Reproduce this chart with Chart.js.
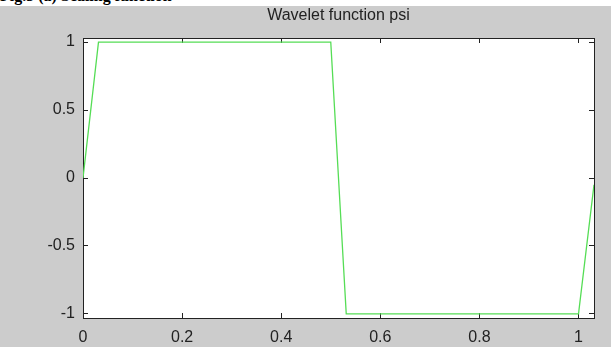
<!DOCTYPE html>
<html>
<head>
<meta charset="utf-8">
<script src="https://cdn.jsdelivr.net/npm/chart.js@4.4.1/dist/chart.umd.min.js"></script>
<style>
    html, body { margin: 0; padding: 0; background: #ffffff; }
    #caption {
        position: absolute; left: 0; top: 0; width: 611px; height: 6px;
        overflow: hidden; background: #ffffff;
    }
    #caption span {
        position: absolute; left: 0; top: -13px; white-space: nowrap;
        font: bold 16px "Liberation Serif", "Times New Roman", serif; color: #000;
    }
    #chart { position: absolute; left: 0; top: 6px; }
</style>
</head>
<body>
<div id="caption"><span>Fig.3 (a) Scaling function</span></div>
<canvas id="chart" width="611" height="341"></canvas>
<script>
// corner points of the psi curve
const psiX = [0, 0.03125, 0.5, 0.53125, 1, 1.03125];
const psiY = [0, 1, 1, -1, -1, -0.05];

const xTicks = [0, 0.2, 0.4, 0.6, 0.8, 1];
const yTicks = [-1, -0.5, 0, 0.5, 1];

const axisColor = '#222222';
const labelFont = { family: 'Liberation Sans, Arial, sans-serif', size: 16 };

function fixedTicks(list) {
    return function(scale) {
        scale.ticks = list.map(v => ({ value: v }));
    };
}

// gray figure background with a white plot box
const backdrop = {
    id: 'backdrop',
    beforeDraw(chart) {
        const ctx = chart.ctx;
        const a = chart.chartArea;
        ctx.save();
        ctx.fillStyle = '#cccccc';
        ctx.fillRect(0, 0, chart.width, chart.height);
        ctx.fillStyle = '#ffffff';
        ctx.fillRect(a.left, a.top, a.right - a.left, a.bottom - a.top);
        ctx.restore();
    }
};

const inwardGrid = {
    display: true,
    drawOnChartArea: false,
    tickLength: -5,
    color: axisColor,
    lineWidth: 1
};

const ctx = document.getElementById('chart').getContext('2d');
const myChart = new Chart(ctx, {
    type: 'scatter',
    data: {
        datasets: [{
            label: 'psi',
            data: psiX.map((x, i) => ({ x: x, y: psiY[i] })),
            showLine: true,
            borderColor: '#55dd55',
            borderWidth: 1.3,
            pointRadius: 0,
            tension: 0
        }]
    },
    options: {
        responsive: false,
        animation: false,
        devicePixelRatio: 1,
        layout: { padding: 0 },
        plugins: {
            legend: { display: false },
            tooltip: { enabled: false },
            title: {
                display: true,
                fullSize: false,
                text: 'Wavelet function psi',
                color: axisColor,
                font: { family: 'Liberation Sans, Arial, sans-serif', size: 16, weight: 'normal' },
                padding: { top: 0, bottom: 0 }
            }
        },
        scales: {
            x: {
                type: 'linear',
                position: 'bottom',
                min: 0,
                max: 1.03125,
                afterBuildTicks: fixedTicks(xTicks),
                afterFit: scale => { scale.height = 29; },
                grid: inwardGrid,
                border: { display: true, color: axisColor, width: 1 },
                ticks: {
                    color: axisColor,
                    font: labelFont,
                    padding: 15,
                    maxRotation: 0,
                    autoSkip: false,
                    callback: v => String(v)
                }
            },
            x2: {
                type: 'linear',
                position: 'top',
                min: 0,
                max: 1.03125,
                afterBuildTicks: fixedTicks(xTicks),
                afterFit: scale => { scale.height = 12.8; },
                grid: inwardGrid,
                border: { display: true, color: axisColor, width: 1 },
                ticks: { display: false }
            },
            y: {
                type: 'linear',
                position: 'left',
                min: -1.03,
                max: 1.03,
                afterBuildTicks: fixedTicks(yTicks),
                afterFit: scale => { scale.width = 83; },
                grid: inwardGrid,
                border: { display: true, color: axisColor, width: 1 },
                ticks: {
                    color: axisColor,
                    font: labelFont,
                    padding: 13,
                    autoSkip: false,
                    callback: v => String(v)
                }
            },
            y2: {
                type: 'linear',
                position: 'right',
                min: -1.03,
                max: 1.03,
                afterBuildTicks: fixedTicks(yTicks),
                afterFit: scale => { scale.width = 17; },
                grid: inwardGrid,
                border: { display: true, color: axisColor, width: 1 },
                ticks: { display: false }
            }
        }
    },
    plugins: [backdrop]
});
</script>
</body>
</html>
